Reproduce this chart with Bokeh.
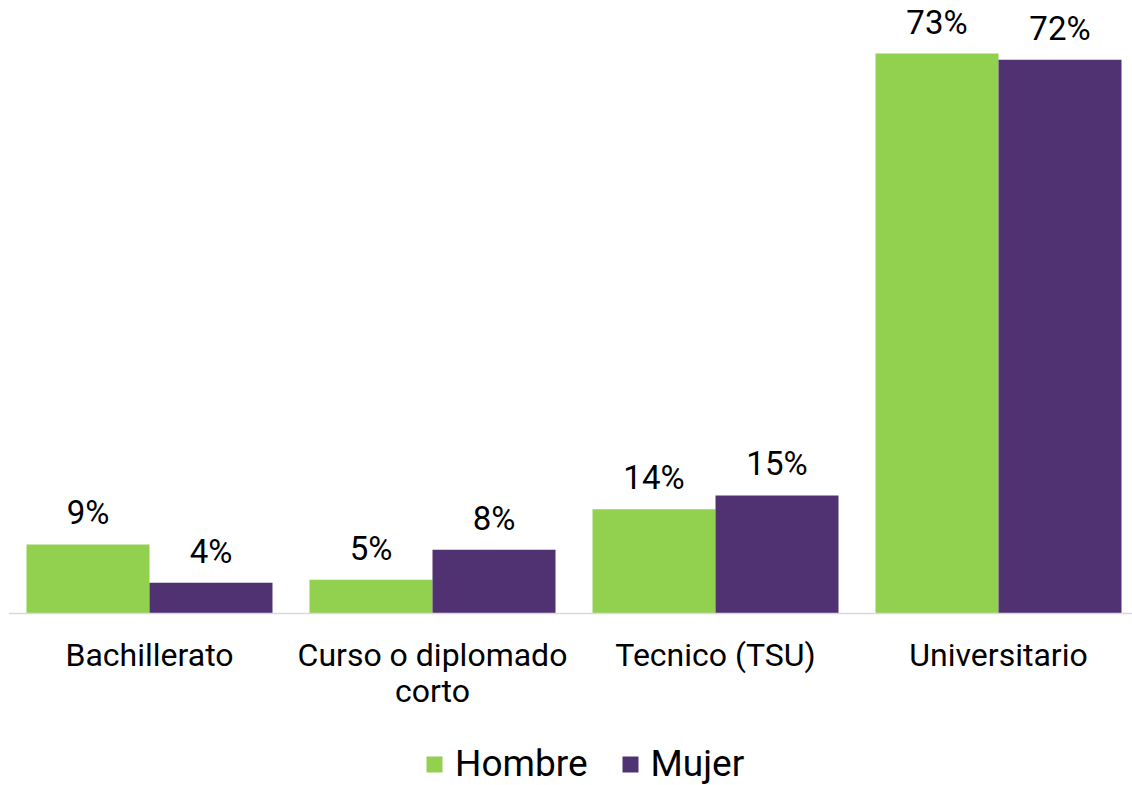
from bokeh.plotting import figure
from bokeh.models import ColumnDataSource, LabelSet, Legend, LegendItem, Range1d, FixedTicker
from bokeh.transform import dodge
from bokeh.core.properties import value
from bokeh.embed import file_html
from bokeh.resources import INLINE

categories = ["Bachillerato", "Curso o diplomado\ncorto", "Tecnico (TSU)", "Universitario"]
hombre = [9.0, 4.4, 13.6, 73.0]
mujer = [4.0, 8.3, 15.4, 72.2]
hombre_labels = ["9%", "5%", "14%", "73%"]
mujer_labels = ["4%", "8%", "15%", "72%"]

GREEN = "#92D050"
PURPLE = "#503273"
FONT = "Roboto"

xs = [i + 0.5 for i in range(len(categories))]
src = ColumnDataSource(dict(x=xs, hombre=hombre, mujer=mujer,
                            hl=hombre_labels, ml=mujer_labels))

LEFT, TOP = 8, 8
BASE = 613          # pixel row of the zero line
FW, FH = 1124, 777
px_per_unit = 283.0
px_per_pct = 7.67
start = 0.5 - (149 - LEFT) / px_per_unit
end = start + FW / px_per_unit

p = figure(frame_width=FW, frame_height=FH, output_backend="svg", toolbar_location=None,
           x_range=Range1d(start, end),
           y_range=Range1d(-(TOP + FH - BASE) / px_per_pct, (BASE - TOP) / px_per_pct),
           min_border_left=LEFT, min_border_right=0, min_border_top=TOP,
           min_border_bottom=0)
p.outline_line_color = None
p.xgrid.visible = False
p.ygrid.visible = False
p.yaxis.visible = False
p.background_fill_color = "white"
p.border_fill_color = "white"

bw = 123 / px_per_unit
off = bw / 2
r1 = p.vbar(x=dodge("x", -off), top="hombre", bottom=0, width=bw, source=src,
            fill_color=GREEN, line_color=None)
r2 = p.vbar(x=dodge("x", off), top="mujer", bottom=0, width=bw, source=src,
            fill_color=PURPLE, line_color=None)

for col, lab, o in (("hombre", "hl", -off), ("mujer", "ml", off)):
    ls = LabelSet(x=dodge("x", o), y=col, text=lab, source=src,
                  text_align="center", text_baseline="alphabetic",
                  y_offset=20, text_font=value(FONT), text_font_size=value("33px"),
                  text_color="#000000")
    p.add_layout(ls)

ax = p.xaxis[0]
ax.fixed_location = 0
ax.ticker = FixedTicker(ticks=xs)
ax.major_label_overrides = {x: c for x, c in zip(xs, categories)}
ax.major_tick_line_color = None
ax.minor_tick_line_color = None
ax.axis_line_color = "#D9D9D9"
ax.axis_line_width = 1.5
ax.major_label_text_font = FONT
ax.major_label_text_font_size = "32px"
ax.major_label_text_line_height = 0.95
ax.major_label_text_color = "#000000"
ax.major_label_standoff = 16

legend = Legend(items=[LegendItem(label="Hombre", renderers=[r1]),
                       LegendItem(label="Mujer", renderers=[r2])],
                orientation="horizontal", location=(416, 0),
                label_text_font=FONT, label_text_font_size="37px",
                label_text_color="#000000", glyph_width=20, glyph_height=20,
                label_standoff=11, spacing=32, padding=0, margin=0,
                border_line_color=None, background_fill_alpha=0)
p.add_layout(legend, "center")

open("out.html", "w").write(file_html(p, INLINE))
